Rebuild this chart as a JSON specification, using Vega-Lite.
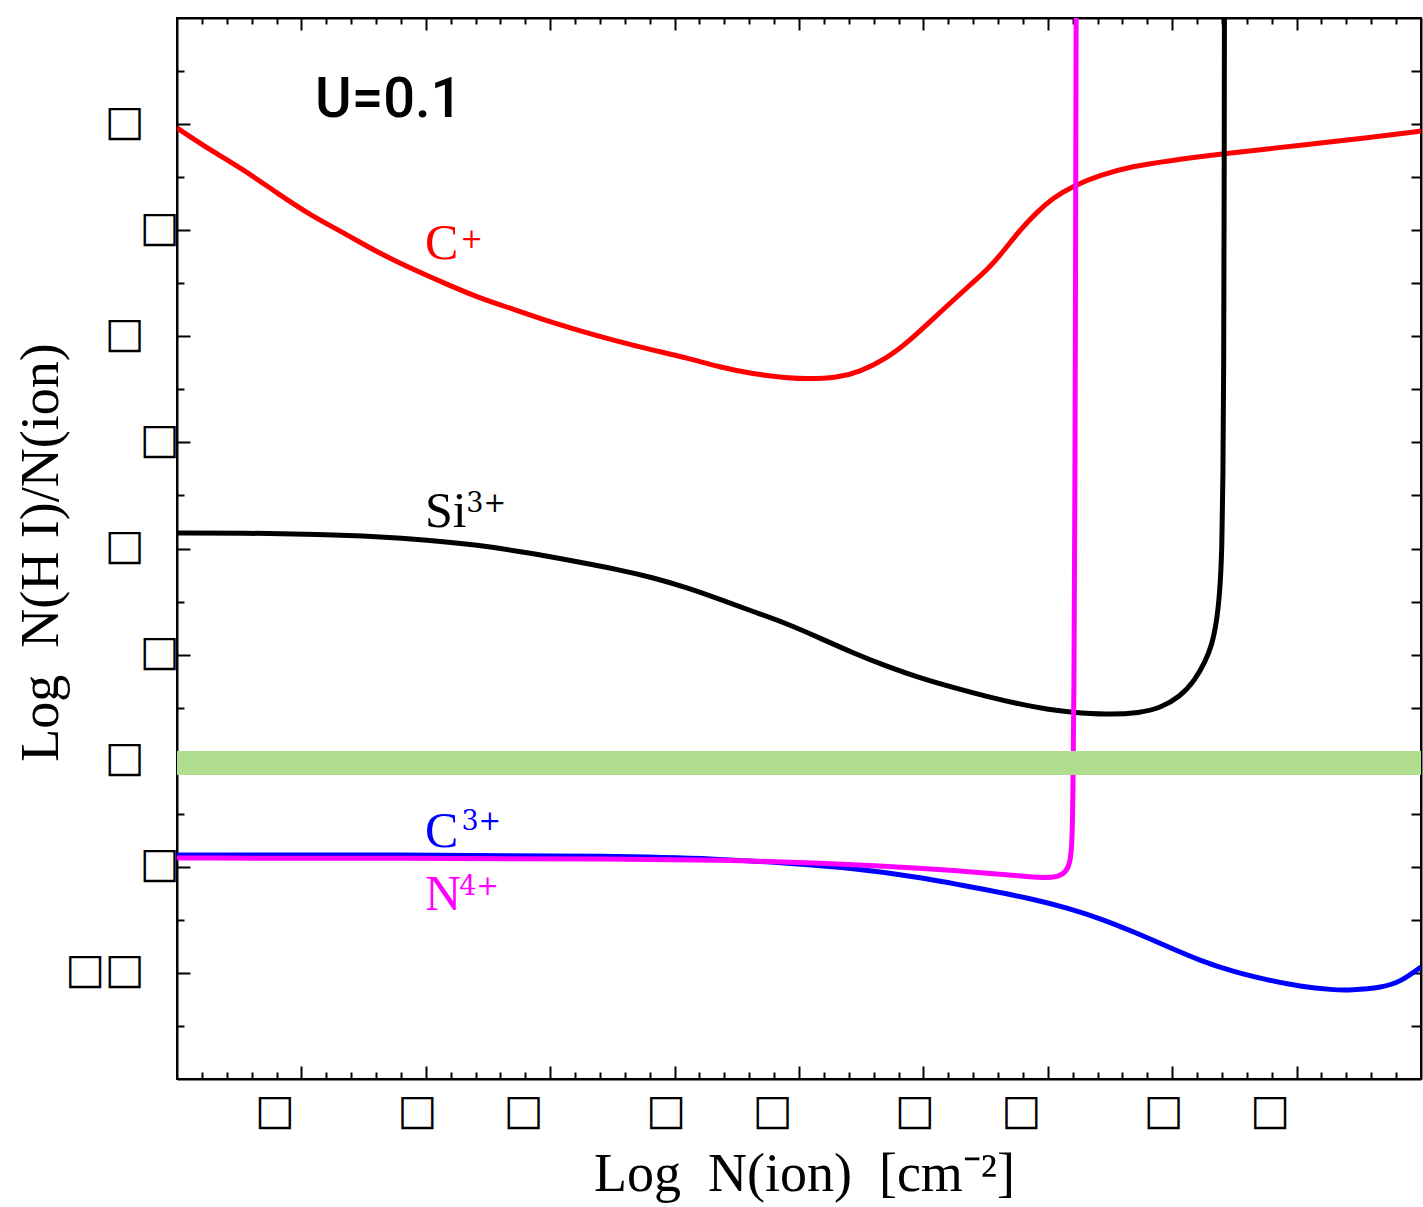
{
  "$schema": "https://vega.github.io/schema/vega-lite/v6.json",
  "autosize": {"type": "none"},
  "width": 1244,
  "height": 1061,
  "padding": {"left": 177, "top": 18, "right": 2, "bottom": 128},
  "background": "white",
  "view": {"stroke": "black", "strokeWidth": 2},
  "config": {"axis": {"grid": false}},
  "datasets": {
    "curves": [
      {"ion": "C+", "x": 12.000, "y": 4.482}, {"ion": "C+", "x": 12.133, "y": 4.378}, {"ion": "C+", "x": 12.269, "y": 4.284},
      {"ion": "C+", "x": 12.402, "y": 4.175}, {"ion": "C+", "x": 12.535, "y": 4.072}, {"ion": "C+", "x": 12.671, "y": 3.987},
      {"ion": "C+", "x": 12.804, "y": 3.897}, {"ion": "C+", "x": 12.936, "y": 3.822}, {"ion": "C+", "x": 13.073, "y": 3.751},
      {"ion": "C+", "x": 13.206, "y": 3.685}, {"ion": "C+", "x": 13.338, "y": 3.633}, {"ion": "C+", "x": 13.475, "y": 3.577},
      {"ion": "C+", "x": 13.608, "y": 3.530}, {"ion": "C+", "x": 13.781, "y": 3.473}, {"ion": "C+", "x": 13.913, "y": 3.435},
      {"ion": "C+", "x": 14.050, "y": 3.398}, {"ion": "C+", "x": 14.182, "y": 3.355}, {"ion": "C+", "x": 14.315, "y": 3.322},
      {"ion": "C+", "x": 14.452, "y": 3.304}, {"ion": "C+", "x": 14.532, "y": 3.299}, {"ion": "C+", "x": 14.653, "y": 3.304},
      {"ion": "C+", "x": 14.745, "y": 3.332}, {"ion": "C+", "x": 14.854, "y": 3.398}, {"ion": "C+", "x": 14.934, "y": 3.468},
      {"ion": "C+", "x": 15.055, "y": 3.600}, {"ion": "C+", "x": 15.187, "y": 3.742}, {"ion": "C+", "x": 15.256, "y": 3.812},
      {"ion": "C+", "x": 15.320, "y": 3.898}, {"ion": "C+", "x": 15.388, "y": 4.001}, {"ion": "C+", "x": 15.457, "y": 4.086},
      {"ion": "C+", "x": 15.521, "y": 4.152}, {"ion": "C+", "x": 15.601, "y": 4.208}, {"ion": "C+", "x": 15.710, "y": 4.260},
      {"ion": "C+", "x": 15.842, "y": 4.302}, {"ion": "C+", "x": 15.979, "y": 4.326}, {"ion": "C+", "x": 16.204, "y": 4.360},
      {"ion": "C+", "x": 16.514, "y": 4.400}, {"ion": "C+", "x": 16.783, "y": 4.435}, {"ion": "C+", "x": 17.000, "y": 4.467},

      {"ion": "C3+", "x": 12.000, "y": 1.056}, {"ion": "C3+", "x": 12.896, "y": 1.056}, {"ion": "C3+", "x": 13.781, "y": 1.051},
      {"ion": "C3+", "x": 14.182, "y": 1.037}, {"ion": "C3+", "x": 14.452, "y": 1.018}, {"ion": "C3+", "x": 14.717, "y": 0.994},
      {"ion": "C3+", "x": 14.986, "y": 0.952}, {"ion": "C3+", "x": 15.256, "y": 0.891}, {"ion": "C3+", "x": 15.441, "y": 0.848},
      {"ion": "C3+", "x": 15.577, "y": 0.806}, {"ion": "C3+", "x": 15.710, "y": 0.757}, {"ion": "C3+", "x": 15.842, "y": 0.695},
      {"ion": "C3+", "x": 15.979, "y": 0.625}, {"ion": "C3+", "x": 16.112, "y": 0.558}, {"ion": "C3+", "x": 16.244, "y": 0.506},
      {"ion": "C3+", "x": 16.381, "y": 0.467}, {"ion": "C3+", "x": 16.514, "y": 0.436}, {"ion": "C3+", "x": 16.646, "y": 0.420},
      {"ion": "C3+", "x": 16.715, "y": 0.418}, {"ion": "C3+", "x": 16.847, "y": 0.432}, {"ion": "C3+", "x": 16.916, "y": 0.457},
      {"ion": "C3+", "x": 17.000, "y": 0.528},

      {"ion": "Si3+", "x": 12.000, "y": 2.573}, {"ion": "Si3+", "x": 12.269, "y": 2.573}, {"ion": "Si3+", "x": 12.575, "y": 2.566},
      {"ion": "Si3+", "x": 12.804, "y": 2.556}, {"ion": "Si3+", "x": 13.005, "y": 2.540}, {"ion": "Si3+", "x": 13.206, "y": 2.517},
      {"ion": "Si3+", "x": 13.407, "y": 2.481}, {"ion": "Si3+", "x": 13.608, "y": 2.438}, {"ion": "Si3+", "x": 13.781, "y": 2.399},
      {"ion": "Si3+", "x": 13.913, "y": 2.363}, {"ion": "Si3+", "x": 14.050, "y": 2.316}, {"ion": "Si3+", "x": 14.182, "y": 2.261},
      {"ion": "Si3+", "x": 14.315, "y": 2.203}, {"ion": "Si3+", "x": 14.452, "y": 2.146}, {"ion": "Si3+", "x": 14.584, "y": 2.078},
      {"ion": "Si3+", "x": 14.717, "y": 2.008}, {"ion": "Si3+", "x": 14.854, "y": 1.944}, {"ion": "Si3+", "x": 14.986, "y": 1.890},
      {"ion": "Si3+", "x": 15.119, "y": 1.845}, {"ion": "Si3+", "x": 15.256, "y": 1.802}, {"ion": "Si3+", "x": 15.388, "y": 1.766},
      {"ion": "Si3+", "x": 15.509, "y": 1.740}, {"ion": "Si3+", "x": 15.589, "y": 1.729}, {"ion": "Si3+", "x": 15.738, "y": 1.717},
      {"ion": "Si3+", "x": 15.871, "y": 1.725}, {"ion": "Si3+", "x": 15.951, "y": 1.748}, {"ion": "Si3+", "x": 16.031, "y": 1.800},
      {"ion": "Si3+", "x": 16.092, "y": 1.880}, {"ion": "Si3+", "x": 16.132, "y": 1.965}, {"ion": "Si3+", "x": 16.160, "y": 2.045},
      {"ion": "Si3+", "x": 16.180, "y": 2.163}, {"ion": "Si3+", "x": 16.192, "y": 2.304}, {"ion": "Si3+", "x": 16.200, "y": 2.493},
      {"ion": "Si3+", "x": 16.204, "y": 2.823}, {"ion": "Si3+", "x": 16.207, "y": 3.300}, {"ion": "Si3+", "x": 16.209, "y": 4.200},
      {"ion": "Si3+", "x": 16.210, "y": 5.100},

      {"ion": "N4+", "x": 12.000, "y": 1.041}, {"ion": "N4+", "x": 12.896, "y": 1.041}, {"ion": "N4+", "x": 13.781, "y": 1.037},
      {"ion": "N4+", "x": 14.182, "y": 1.032}, {"ion": "N4+", "x": 14.584, "y": 1.018}, {"ion": "N4+", "x": 14.986, "y": 0.994},
      {"ion": "N4+", "x": 15.256, "y": 0.971}, {"ion": "N4+", "x": 15.388, "y": 0.957}, {"ion": "N4+", "x": 15.481, "y": 0.947},
      {"ion": "N4+", "x": 15.541, "y": 0.952}, {"ion": "N4+", "x": 15.573, "y": 0.975}, {"ion": "N4+", "x": 15.589, "y": 1.018},
      {"ion": "N4+", "x": 15.597, "y": 1.093}, {"ion": "N4+", "x": 15.601, "y": 1.315}, {"ion": "N4+", "x": 15.605, "y": 1.786},
      {"ion": "N4+", "x": 15.609, "y": 2.729}, {"ion": "N4+", "x": 15.612, "y": 4.000}, {"ion": "N4+", "x": 15.614, "y": 5.100}
    ],
    "band": [{"x0": 12, "x1": 17, "lo": 1.4326, "hi": 1.5457}],
    "labels": [
      {"ion": "C+", "text": "C", "x": 12.997, "y": 3.864},
      {"ion": "Si3+", "text": "Si", "x": 12.997, "y": 2.601},
      {"ion": "C3+", "text": "C", "x": 12.997, "y": 1.093},
      {"ion": "N4+", "text": "N", "x": 12.997, "y": 0.796}
    ],
    "sups": [
      {"ion": "C+", "text": "+", "x": 13.138, "y": 3.916},
      {"ion": "Si3+", "text": "3+", "x": 13.163, "y": 2.672},
      {"ion": "C3+", "text": "3+", "x": 13.143, "y": 1.173},
      {"ion": "N4+", "text": "4+", "x": 13.134, "y": 0.867}
    ],
    "ulabel": [{"text": "U=0.1", "x": 12.555, "y": 4.533}]
  },
  "layer": [
    {
      "data": {"name": "curves"},
      "mark": {"type": "line", "strokeWidth": 5, "interpolate": "basis", "clip": true},
      "encoding": {
        "x": {"field": "x", "type": "quantitative", "scale": {"domain": [12, 17], "nice": false, "zero": false},
          "axis": {"orient": "top", "title": null, "labels": false, "domainColor": "black", "domainWidth": 2,
            "values": [12.1,12.2,12.3,12.4,12.5,12.6,12.7,12.8,12.9,13.0,13.1,13.2,13.3,13.4,13.5,13.6,13.7,13.8,13.9,14.0,14.1,14.2,14.3,14.4,14.5,14.6,14.7,14.8,14.9,15.0,15.1,15.2,15.3,15.4,15.5,15.6,15.7,15.8,15.9,16.0,16.1,16.2,16.3,16.4,16.5,16.6,16.7,16.8,16.9],
            "tickColor": "black", "tickWidth": 2,
            "tickSize": {"condition": {"test": "abs(datum.value*2 - round(datum.value*2)) < 0.01", "value": -12}, "value": -6}}},
        "y": {"field": "y", "type": "quantitative", "scale": {"domain": [0, 5], "nice": false, "zero": false},
          "axis": {"orient": "right", "title": null, "labels": false, "domainColor": "black", "domainWidth": 2,
            "values": [0.25,0.5,0.75,1,1.25,1.5,1.75,2,2.25,2.5,2.75,3,3.25,3.5,3.75,4,4.25,4.5,4.75],
            "tickColor": "black", "tickWidth": 2, "tickSize": -10}},
        "color": {"field": "ion", "type": "nominal", "legend": null,
          "scale": {"domain": ["C+", "C3+", "Si3+", "N4+"], "range": ["#ff0000", "#0000ff", "#000000", "#ff00ff"]}}
      }
    },
    {
      "data": {"name": "band"},
      "mark": {"type": "rect", "color": "#b1dd8f"},
      "encoding": {
        "x": {"field": "x0", "type": "quantitative",
          "axis": {"orient": "bottom", "domainColor": "black", "domainWidth": 2,
            "values": [12.1,12.2,12.3,12.4,12.5,12.6,12.7,12.8,12.9,13.0,13.1,13.2,13.3,13.4,13.5,13.6,13.7,13.8,13.9,14.0,14.1,14.2,14.3,14.4,14.5,14.6,14.7,14.8,14.9,15.0,15.1,15.2,15.3,15.4,15.5,15.6,15.7,15.8,15.9,16.0,16.1,16.2,16.3,16.4,16.5,16.6,16.7,16.8,16.9],
            "tickColor": "black", "tickWidth": 2,
            "tickSize": {"condition": {"test": "abs(datum.value*2 - round(datum.value*2)) < 0.01", "value": -13}, "value": -7},
            "labelExpr": "abs(datum.value*2 - round(datum.value*2)) < 0.01 ? '□' : ''",
            "labelFont": "DejaVu Sans", "labelFontSize": 42, "labelColor": "black",
            "labelAlign": "center", "labelBaseline": "top", "labelPadding": 24, "labelOverlap": false, "labelFlush": false, "labelBound": false,
            "labelOffset": {"condition": {"test": "abs(datum.value - round(datum.value)) < 0.01", "value": -9}, "value": -27},
            "title": "Log\u00a0 N(ion)\u00a0 [cm⁻²]", "titleFont": "Liberation Serif", "titleFontSize": 54, "titleFontWeight": "normal", "titleColor": "black",
            "titleX": 627, "titleY": 111, "titleBaseline": "alphabetic", "titleAlign": "center", "titleAnchor": null}},
        "x2": {"field": "x1"},
        "y": {"field": "lo", "type": "quantitative",
          "axis": {"orient": "left", "domainColor": "black", "domainWidth": 2,
            "values": [0.25,0.5,0.75,1,1.25,1.5,1.75,2,2.25,2.5,2.75,3,3.25,3.5,3.75,4,4.25,4.5,4.75],
            "tickColor": "black", "tickWidth": 2,
            "tickSize": {"condition": {"test": "abs(datum.value*2 - round(datum.value*2)) < 0.01", "value": -13}, "value": -7},
            "labelExpr": "abs(datum.value - 0.5) < 0.01 ? '□□' : (abs(datum.value*2 - round(datum.value*2)) < 0.01 ? '□' : '')",
            "labelFont": "DejaVu Sans", "labelFontSize": 42, "labelColor": "black",
            "labelAlign": "right", "labelBaseline": "middle", "labelOverlap": false, "labelFlush": false, "labelBound": false,
            "labelPadding": {"condition": {"test": "abs(datum.value - round(datum.value)) > 0.25", "value": 46}, "value": 11},
            "labelOffset": -3,
            "title": "Log\u00a0 N(H I)/N(ion)", "titleFont": "Liberation Serif", "titleFontSize": 54, "titleFontWeight": "normal", "titleColor": "black",
            "titleX": -120, "titleY": 534, "titleBaseline": "alphabetic", "titleAlign": "center", "titleAngle": -90, "titleAnchor": null}},
        "y2": {"field": "hi"}
      }
    },
    {
      "data": {"name": "labels"},
      "mark": {"type": "text", "font": "Liberation Serif", "fontSize": 50, "align": "left", "baseline": "alphabetic"},
      "encoding": {
        "x": {"field": "x", "type": "quantitative", "axis": null},
        "y": {"field": "y", "type": "quantitative", "axis": null},
        "text": {"field": "text"},
        "color": {"field": "ion", "type": "nominal", "legend": null}
      }
    },
    {
      "data": {"name": "sups"},
      "mark": {"type": "text", "font": "DejaVu Serif", "fontSize": 27, "align": "left", "baseline": "alphabetic"},
      "encoding": {
        "x": {"field": "x", "type": "quantitative", "axis": null},
        "y": {"field": "y", "type": "quantitative", "axis": null},
        "text": {"field": "text"},
        "color": {"field": "ion", "type": "nominal", "legend": null}
      }
    },
    {
      "data": {"name": "ulabel"},
      "mark": {"type": "text", "font": "Roboto", "fontSize": 56, "fontWeight": 500, "align": "left", "baseline": "alphabetic", "color": "black"},
      "encoding": {
        "x": {"field": "x", "type": "quantitative", "axis": null},
        "y": {"field": "y", "type": "quantitative", "axis": null},
        "text": {"field": "text"}
      }
    }
  ],
  "resolve": {"axis": {"x": "independent", "y": "independent"}}
}
